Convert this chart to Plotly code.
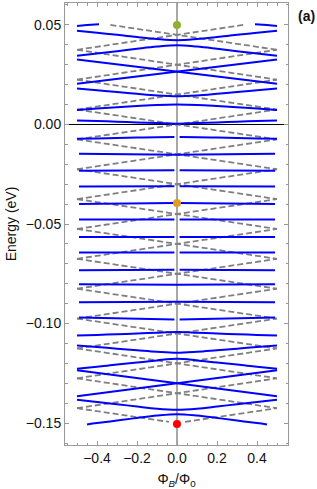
import plotly.graph_objects as go

# ---------------- data ----------------
# flux samples for the right half (bands are symmetric about flux 0)
half_x = [0.0, 0.1, 0.2, 0.3, 0.4, 0.5]
gap_x = 0.013          # blue bands that are broken at flux 0
mid_edge_x = 0.49      # extent of the nearly flat bands

# rounded (anti-crossing) blue bands, energies at half_x
blue_T2 = [0.0423, 0.0429, 0.0439, 0.0450, 0.0460, 0.0470]
blue_T3 = [0.0398, 0.0391, 0.0380, 0.0368, 0.0356, 0.0345]
blue_T5 = [0.0142, 0.0146, 0.0154, 0.0163, 0.0172, 0.0180]
blue_T6 = [0.0100, 0.0098, 0.0093, 0.0087, 0.0080, 0.0073]
blue_T7 = [0.0004, 0.0007, 0.0010, 0.0014, 0.0017, 0.0020]
blue_T8 = [-0.0063, -0.0064, -0.0066, -0.0068, -0.0070, -0.0072]
blue_B1 = [-0.1043, -0.1046, -0.1050, -0.1054, -0.1057, -0.1060]
blue_B2 = [-0.1147, -0.1142, -0.1134, -0.1126, -0.1118, -0.1110]
blue_B3 = [-0.1177, -0.1185, -0.1196, -0.1206, -0.1217, -0.1227]
blue_B5 = [-0.1433, -0.1428, -0.1417, -0.1405, -0.1394, -0.1383]
rounded_bands = [blue_T2, blue_T3, blue_T5, blue_T6, blue_T7, blue_T8,
                 blue_B1, blue_B2, blue_B3, blue_B5]
rounded_gap = [False, False, False, False, False, True,
               False, False, False, False]

# lowest band (stops short of the edges)
blue_B6_x = [0.0, 0.1, 0.2, 0.3, 0.4, 0.45]
blue_B6 = [-0.1455, -0.1462, -0.1474, -0.1487, -0.1500, -0.1507]

# top fragments near the edges
blue_T1_x = [0.39, 0.45, 0.5]
blue_T1 = [0.0503, 0.0499, 0.0495]

# straight crossing bands: energy at flux -0.5, 0, 0.5
cross_x = [-0.5, 0.0, 0.5]
blue_X_top = [0.0326, 0.0265, 0.0204]
blue_X_bot = [-0.1235, -0.1300, -0.1365]

# nearly flat bands: energy at the edge, at the centre, broken at 0?
mid_edge = [-0.0147, -0.0233, -0.0312, -0.0400, -0.0478, -0.0565,
            -0.0643, -0.0732, -0.0803, -0.0893, -0.0970]
mid_center = [-0.0152, -0.0230, -0.0310, -0.0395, -0.0478, -0.0565,
              -0.0643, -0.0730, -0.0805, -0.0890, -0.0980]
mid_gap = [False, True, True, True, True, True, True, True, False, False, True]

# grey dashed straight levels: crossing energies at flux 0 and node energies at +-0.5
gray_center = [0.045, 0.030, 0.015, 0.000, -0.015, -0.030, -0.045, -0.060,
               -0.075, -0.090, -0.105, -0.120, -0.135, -0.150]
gray_edge = [0.0525, 0.0375, 0.0225, 0.0075, -0.0075, -0.0225, -0.0375, -0.0525,
             -0.0675, -0.0825, -0.0975, -0.1125, -0.1275, -0.1425, -0.1575]
gray_top_end = (0.333, 0.0500)      # where the topmost lines leave the plot
gray_bot_end = (0.04, -0.1494)      # where the lowest lines stop near the red dot

# marked states
dot_x = [0.0, 0.0, 0.0]
dot_E = [0.0500, -0.0395, -0.1505]
dot_colors = ["#8FB032", "#E19C24", "#FF0000"]

# ---------------- figure ----------------
BLUE = "#0000FF"
GRAY = "#808080"
fig = go.Figure()


def add_line(xs, ys, color, dash=None, width=2.0, shape="linear"):
    fig.add_trace(go.Scatter(
        x=xs, y=ys, mode="lines", showlegend=False, hoverinfo="skip",
        line=dict(color=color, width=width, dash=dash, shape=shape)))


# grey dashed lines
n = len(gray_center)
for i, c in enumerate(gray_center):
    hi, lo = gray_edge[i], gray_edge[i + 1]
    # rising line
    xs, ys = [-0.5, 0.0, 0.5], [lo, c, hi]
    if i == 0:
        xs[2], ys[2] = gray_top_end
    if i == n - 1:
        xs, ys = [gray_bot_end[0], 0.5], [gray_bot_end[1], hi]
    add_line(xs, ys, GRAY, dash="6px,3px", width=1.8)
    # falling line
    xs, ys = [-0.5, 0.0, 0.5], [hi, c, lo]
    if i == 0:
        xs[0], ys[0] = -gray_top_end[0], gray_top_end[1]
    if i == n - 1:
        xs, ys = [-0.5, -gray_bot_end[0]], [hi, gray_bot_end[1]]
    add_line(xs, ys, GRAY, dash="6px,3px", width=1.8)

# rounded blue bands
for band, gap in zip(rounded_bands, rounded_gap):
    hx = list(half_x)
    if gap:
        hx[0] = gap_x
        add_line([-v for v in hx[::-1]], band[::-1], BLUE, shape="spline")
        add_line(hx, band, BLUE, shape="spline")
    else:
        xs = [-v for v in hx[::-1]] + hx[1:]
        ys = band[::-1] + band[1:]
        add_line(xs, ys, BLUE, shape="spline")

xs = [-v for v in blue_B6_x[::-1]] + blue_B6_x[1:]
ys = blue_B6[::-1] + blue_B6[1:]
add_line(xs, ys, BLUE, shape="spline")

add_line([-v for v in blue_T1_x], blue_T1, BLUE, shape="spline")
add_line(blue_T1_x, blue_T1, BLUE, shape="spline")

for band in (blue_X_top, blue_X_bot):
    add_line(cross_x, band, BLUE)
    add_line(cross_x, band[::-1], BLUE)

for e, c, gap in zip(mid_edge, mid_center, mid_gap):
    if gap:
        add_line([-mid_edge_x, -gap_x], [e, c], BLUE)
        add_line([gap_x, mid_edge_x], [c, e], BLUE)
    else:
        add_line([-mid_edge_x, 0.0, mid_edge_x], [e, c, e], BLUE)

fig.add_trace(go.Scatter(
    x=dot_x, y=dot_E, mode="markers", showlegend=False, hoverinfo="skip",
    marker=dict(size=8, color=dot_colors, line=dict(width=0))))

FONT = "Liberation Sans, Arial, sans-serif"
FRAME = "#9a9a9a"
fig.update_layout(
    width=317, height=489,
    margin=dict(l=65, r=29, t=2, b=43),
    paper_bgcolor="white", plot_bgcolor="white",
    font=dict(family=FONT, size=14, color="#111111"),
    xaxis=dict(
        range=[-0.56, 0.555], dtick=0.2, tick0=0, tickformat=".1f",
        showgrid=False, zeroline=True, zerolinecolor="#a8a8a8", zerolinewidth=2,
        showline=True, linecolor=FRAME, linewidth=1, mirror="ticks",
        ticks="inside", ticklen=4, tickcolor=FRAME,
        minor=dict(dtick=0.05, ticks="inside", ticklen=2.5, tickcolor=FRAME, showgrid=False),
        title=dict(text="Φ<sub><i>B</i></sub>/Φ<sub>0</sub>", standoff=11,
                   font=dict(size=14)),
        tickfont=dict(size=14),
    ),
    yaxis=dict(
        range=[-0.161, 0.061], dtick=0.05, tick0=0, tickformat=".2f",
        showgrid=False, zeroline=True, zerolinecolor="#000000", zerolinewidth=1,
        showline=True, linecolor=FRAME, linewidth=1, mirror="ticks",
        ticks="inside", ticklen=4, tickcolor=FRAME,
        minor=dict(dtick=0.01, ticks="inside", ticklen=2.5, tickcolor=FRAME, showgrid=False),
        title=dict(text="Energy (eV)", standoff=5, font=dict(size=14)),
        tickfont=dict(size=14),
    ),
    annotations=[dict(text="<b>(a)</b>", x=1.081, y=0.971, xref="paper", yref="paper",
                      xanchor="center", yanchor="middle", showarrow=False,
                      font=dict(size=14, color="#111111"))],
)

fig.write_html("out.html",
               config={"displayModeBar": False},
               post_script="document.body.style.margin='0';document.body.style.overflow='hidden';")
